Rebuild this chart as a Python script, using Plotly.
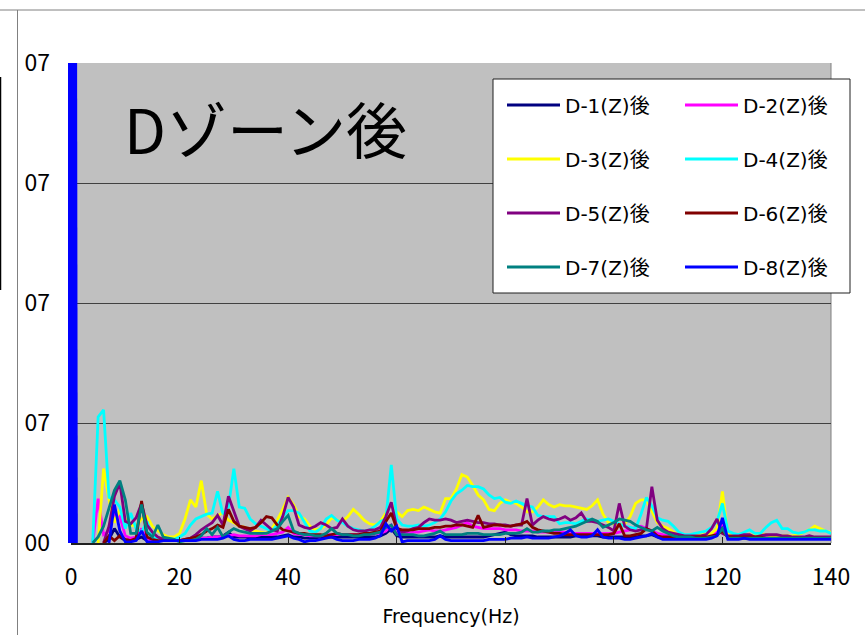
import plotly.graph_objects as go

# ---------------- data (amplitude in grid units) ----------------
FREQ_HZ = list(range(0, 141))
N = None

D1 = [N, N, N, N, N, N, 0.00, 0.03, 0.12, 0.05,
      0.02, 0.03, 0.03, 0.05, 0.02, 0.02, 0.02, 0.02, 0.02, 0.02,
      0.02, 0.02, 0.03, 0.03, 0.04, 0.04, 0.05, 0.05, 0.06, 0.09,
      0.05, 0.05, 0.05, 0.04, 0.04, 0.05, 0.05, 0.05, 0.05, 0.06,
      0.07, 0.05, 0.05, 0.04, 0.04, 0.04, 0.05, 0.05, 0.05, 0.05,
      0.05, 0.05, 0.05, 0.05, 0.05, 0.05, 0.05, 0.06, 0.08, 0.12,
      0.06, 0.05, 0.05, 0.05, 0.05, 0.05, 0.05, 0.05, 0.06, 0.05,
      0.05, 0.05, 0.05, 0.05, 0.05, 0.05, 0.05, 0.06, 0.07, 0.08,
      0.09, 0.07, 0.06, 0.06, 0.06, 0.06, 0.05, 0.05, 0.05, 0.05,
      0.05, 0.05, 0.05, 0.06, 0.06, 0.06, 0.06, 0.06, 0.05, 0.05,
      0.05, 0.05, 0.05, 0.05, 0.05, 0.06, 0.06, 0.07, 0.05, 0.04,
      0.04, 0.04, 0.04, 0.04, 0.04, 0.04, 0.04, 0.04, 0.05, 0.07,
      0.15, 0.04, 0.04, 0.04, 0.04, 0.04, 0.04, 0.04, 0.04, 0.04,
      0.04, 0.04, 0.04, 0.04, 0.04, 0.04, 0.04, 0.04, 0.04, 0.04,
      0.04]

D2 = [N, N, N, N, 0.00, 0.37, 0.07, 0.10, 0.25, 0.22,
      0.06, 0.04, 0.05, 0.12, 0.03, 0.02, 0.02, 0.02, 0.02, 0.02,
      0.02, 0.02, 0.03, 0.03, 0.04, 0.04, 0.05, 0.05, 0.06, 0.06,
      0.07, 0.06, 0.06, 0.06, 0.06, 0.07, 0.07, 0.07, 0.08, 0.09,
      0.13, 0.08, 0.07, 0.07, 0.06, 0.06, 0.06, 0.07, 0.07, 0.07,
      0.07, 0.07, 0.07, 0.07, 0.07, 0.07, 0.08, 0.08, 0.10, 0.15,
      0.08, 0.08, 0.08, 0.09, 0.09, 0.10, 0.11, 0.10, 0.10, 0.11,
      0.12, 0.13, 0.15, 0.17, 0.14, 0.13, 0.12, 0.12, 0.12, 0.12,
      0.11, 0.11, 0.11, 0.10, 0.10, 0.10, 0.09, 0.09, 0.09, 0.09,
      0.09, 0.09, 0.08, 0.08, 0.08, 0.08, 0.08, 0.08, 0.08, 0.08,
      0.08, 0.09, 0.10, 0.11, 0.13, 0.14, 0.12, 0.10, 0.08, 0.07,
      0.06, 0.06, 0.05, 0.05, 0.05, 0.05, 0.05, 0.05, 0.06, 0.09,
      0.17, 0.05, 0.05, 0.05, 0.05, 0.05, 0.05, 0.05, 0.05, 0.05,
      0.05, 0.05, 0.04, 0.04, 0.04, 0.04, 0.04, 0.04, 0.04, 0.04,
      0.04]

D3 = [N, N, N, N, N, 0.00, 0.62, 0.36, 0.17, 0.28,
      0.20, 0.15, 0.14, 0.20, 0.22, 0.14, 0.10, 0.07, 0.05, 0.05,
      0.08, 0.20, 0.36, 0.30, 0.52, 0.24, 0.20, 0.23, 0.25, 0.19,
      0.17, 0.14, 0.13, 0.11, 0.10, 0.09, 0.08, 0.12, 0.19, 0.28,
      0.38, 0.32, 0.22, 0.20, 0.14, 0.11, 0.12, 0.15, 0.21, 0.19,
      0.18, 0.22, 0.28, 0.24, 0.19, 0.16, 0.15, 0.18, 0.25, 0.32,
      0.26, 0.22, 0.27, 0.28, 0.27, 0.30, 0.28, 0.26, 0.25, 0.37,
      0.37, 0.45, 0.57, 0.55, 0.48, 0.40, 0.36, 0.28, 0.27, 0.33,
      0.36, 0.34, 0.33, 0.30, 0.26, 0.26, 0.30, 0.36, 0.32, 0.30,
      0.32, 0.31, 0.31, 0.30, 0.29, 0.28, 0.31, 0.36, 0.24, 0.17,
      0.16, 0.15, 0.16, 0.22, 0.33, 0.36, 0.36, 0.26, 0.17, 0.14,
      0.12, 0.09, 0.06, 0.06, 0.06, 0.07, 0.07, 0.07, 0.08, 0.12,
      0.43, 0.07, 0.06, 0.06, 0.06, 0.07, 0.06, 0.07, 0.07, 0.06,
      0.06, 0.06, 0.06, 0.06, 0.07, 0.09, 0.11, 0.14, 0.12, 0.10,
      0.09]

D4 = [N, N, N, N, 0.00, 1.05, 1.11, 0.38, 0.36, 0.30,
      0.12, 0.25, 0.12, 0.09, 0.18, 0.06, 0.02, 0.03, 0.04, 0.03,
      0.05, 0.08, 0.15, 0.20, 0.22, 0.24, 0.25, 0.43, 0.24, 0.30,
      0.62, 0.30, 0.29, 0.20, 0.16, 0.14, 0.12, 0.10, 0.15, 0.22,
      0.27, 0.27, 0.25, 0.17, 0.10, 0.09, 0.12, 0.20, 0.23, 0.19,
      0.17, 0.14, 0.12, 0.11, 0.10, 0.11, 0.14, 0.18, 0.20, 0.65,
      0.20, 0.15, 0.14, 0.14, 0.15, 0.14, 0.15, 0.17, 0.20, 0.26,
      0.35, 0.41, 0.44, 0.48, 0.47, 0.47, 0.45, 0.40, 0.37, 0.38,
      0.34, 0.33, 0.35, 0.33, 0.31, 0.30, 0.23, 0.22, 0.22, 0.22,
      0.16, 0.17, 0.17, 0.16, 0.18, 0.20, 0.19, 0.18, 0.19, 0.20,
      0.18, 0.16, 0.14, 0.13, 0.12, 0.24, 0.38, 0.31, 0.21, 0.19,
      0.18, 0.14, 0.09, 0.07, 0.07, 0.08, 0.09, 0.10, 0.13, 0.18,
      0.33, 0.10, 0.08, 0.07, 0.09, 0.11, 0.08, 0.08, 0.13, 0.17,
      0.19, 0.12, 0.12, 0.09, 0.08, 0.09, 0.11, 0.11, 0.10, 0.10,
      0.08]

D5 = [N, N, N, N, N, N, 0.00, 0.14, 0.39, 0.50,
      0.18, 0.16, 0.21, 0.33, 0.15, 0.09, 0.05, 0.03, 0.02, 0.02,
      0.02, 0.03, 0.04, 0.07, 0.11, 0.14, 0.17, 0.23, 0.15, 0.39,
      0.26, 0.14, 0.12, 0.10, 0.13, 0.19, 0.15, 0.11, 0.10, 0.22,
      0.38, 0.30, 0.15, 0.13, 0.12, 0.14, 0.17, 0.15, 0.12, 0.13,
      0.20, 0.14, 0.11, 0.10, 0.10, 0.11, 0.11, 0.13, 0.22, 0.34,
      0.13, 0.09, 0.10, 0.12, 0.13, 0.17, 0.20, 0.19, 0.19, 0.20,
      0.19, 0.17, 0.18, 0.19, 0.18, 0.17, 0.17, 0.16, 0.16, 0.15,
      0.15, 0.14, 0.15, 0.15, 0.37, 0.15, 0.19, 0.22, 0.20, 0.19,
      0.20, 0.22, 0.19, 0.21, 0.25, 0.18, 0.18, 0.17, 0.15, 0.13,
      0.10, 0.33, 0.14, 0.11, 0.10, 0.11, 0.12, 0.47, 0.19, 0.12,
      0.09, 0.08, 0.07, 0.06, 0.06, 0.06, 0.06, 0.07, 0.12, 0.20,
      0.08, 0.06, 0.06, 0.06, 0.07, 0.07, 0.05, 0.06, 0.07, 0.07,
      0.07, 0.06, 0.06, 0.05, 0.05, 0.05, 0.06, 0.05, 0.05, 0.05,
      0.05]

D6 = [N, N, N, N, N, N, 0.00, 0.06, 0.02, 0.06,
      0.03, 0.02, 0.04, 0.35, 0.05, 0.03, 0.02, 0.02, 0.02, 0.02,
      0.02, 0.03, 0.04, 0.05, 0.07, 0.10, 0.12, 0.15, 0.13, 0.28,
      0.18, 0.14, 0.13, 0.12, 0.13, 0.17, 0.22, 0.21, 0.15, 0.11,
      0.10, 0.09, 0.08, 0.08, 0.07, 0.07, 0.07, 0.06, 0.07, 0.08,
      0.07, 0.07, 0.07, 0.07, 0.08, 0.08, 0.09, 0.10, 0.18, 0.25,
      0.12, 0.11, 0.11, 0.11, 0.12, 0.12, 0.12, 0.13, 0.13, 0.14,
      0.14, 0.15, 0.15, 0.14, 0.13, 0.23, 0.13, 0.14, 0.15, 0.15,
      0.14, 0.14, 0.15, 0.16, 0.18, 0.13, 0.11, 0.10, 0.09, 0.08,
      0.08, 0.07, 0.07, 0.07, 0.07, 0.07, 0.07, 0.07, 0.07, 0.07,
      0.08, 0.16, 0.06, 0.06, 0.07, 0.08, 0.12, 0.10, 0.06, 0.05,
      0.05, 0.05, 0.05, 0.05, 0.05, 0.05, 0.05, 0.05, 0.06, 0.07,
      0.10, 0.05, 0.05, 0.05, 0.05, 0.05, 0.05, 0.05, 0.04, 0.04,
      0.04, 0.04, 0.04, 0.04, 0.04, 0.04, 0.04, 0.04, 0.04, 0.04,
      0.04]

D7 = [N, N, N, N, 0.00, 0.05, 0.14, 0.28, 0.44, 0.52,
      0.36, 0.08, 0.08, 0.32, 0.09, 0.05, 0.15, 0.05, 0.04, 0.03,
      0.01, 0.02, 0.02, 0.03, 0.06, 0.12, 0.07, 0.13, 0.05, 0.09,
      0.12, 0.10, 0.09, 0.08, 0.08, 0.08, 0.08, 0.10, 0.12, 0.18,
      0.23, 0.10, 0.08, 0.07, 0.07, 0.06, 0.06, 0.08, 0.12, 0.08,
      0.07, 0.07, 0.06, 0.06, 0.07, 0.07, 0.08, 0.09, 0.13, 0.15,
      0.07, 0.07, 0.07, 0.07, 0.06, 0.06, 0.07, 0.08, 0.10, 0.07,
      0.07, 0.07, 0.07, 0.08, 0.08, 0.08, 0.07, 0.07, 0.07, 0.07,
      0.08, 0.08, 0.08, 0.09, 0.12, 0.09, 0.09, 0.10, 0.10, 0.11,
      0.11, 0.12, 0.13, 0.14, 0.16, 0.18, 0.20, 0.18, 0.13, 0.15,
      0.17, 0.20, 0.19, 0.18, 0.15, 0.13, 0.11, 0.10, 0.13, 0.10,
      0.08, 0.06, 0.05, 0.05, 0.05, 0.04, 0.04, 0.04, 0.05, 0.06,
      0.12, 0.04, 0.04, 0.04, 0.04, 0.04, 0.04, 0.04, 0.04, 0.04,
      0.04, 0.04, 0.04, 0.04, 0.04, 0.04, 0.04, 0.04, 0.04, 0.04,
      0.04]

D8 = [30.0, 0.00, N, N, N, N, N, 0.00, 0.32, 0.10,
      0.01, 0.01, 0.02, 0.10, 0.01, 0.01, 0.01, 0.02, 0.02, 0.02,
      0.02, 0.02, 0.02, 0.02, 0.03, 0.03, 0.03, 0.03, 0.04, 0.06,
      0.03, 0.02, 0.02, 0.03, 0.03, 0.03, 0.03, 0.03, 0.04, 0.05,
      0.06, 0.04, 0.03, 0.01, 0.02, 0.02, 0.03, 0.04, 0.05, 0.03,
      0.02, 0.02, 0.02, 0.03, 0.03, 0.03, 0.04, 0.06, 0.16, 0.10,
      0.14, 0.01, 0.02, 0.02, 0.02, 0.02, 0.02, 0.03, 0.06, 0.03,
      0.02, 0.02, 0.02, 0.02, 0.02, 0.02, 0.02, 0.03, 0.03, 0.03,
      0.03, 0.04, 0.04, 0.04, 0.05, 0.04, 0.04, 0.04, 0.04, 0.05,
      0.06, 0.08, 0.11, 0.06, 0.05, 0.05, 0.06, 0.11, 0.05, 0.04,
      0.04, 0.04, 0.03, 0.03, 0.04, 0.05, 0.06, 0.08, 0.05, 0.03,
      0.03, 0.03, 0.03, 0.03, 0.03, 0.03, 0.03, 0.03, 0.04, 0.06,
      0.21, 0.03, 0.03, 0.03, 0.04, 0.03, 0.03, 0.03, 0.03, 0.03,
      0.03, 0.03, 0.03, 0.03, 0.03, 0.03, 0.03, 0.03, 0.03, 0.03,
      0.03]

SERIES_VALUES = [D1, D2, D3, D4, D5, D6, D7, D8]
SERIES_NAMES = ["D-1(Z)後", "D-2(Z)後", "D-3(Z)後", "D-4(Z)後",
                "D-5(Z)後", "D-6(Z)後", "D-7(Z)後", "D-8(Z)後"]
SERIES_COLORS = ["#000080", "#FF00FF", "#FFFF00", "#00FFFF",
                 "#800080", "#800000", "#008080", "#0000FF"]
SERIES_LEGEND = ["legend", "legend", "legend2", "legend2",
                 "legend3", "legend3", "legend4", "legend4"]

X_TICKS = [0, 20, 40, 60, 80, 100, 120, 140]
Y_TICK_VALS = [0, 1, 2, 3, 4]
Y_TICK_TEXT = ["00", "07", "07", "07", "07"]
TITLE_TEXT = "Dゾーン後"
X_TITLE = "Frequency(Hz)"

for s in SERIES_VALUES:
    if len(s) != len(FREQ_HZ):
        raise ValueError("length mismatch %d" % len(s))

# ---------------- figure ----------------
FONT = "Noto Sans CJK JP, Noto Sans, sans-serif"
FONT_WIDE = "DejaVu Sans, Noto Sans CJK JP, sans-serif"
W, H = 865, 635
ML, MR, MT, MB = 71, 34, 63, 92
PW, PH = W - ML - MR, H - MT - MB


def px_x(x):
    return (x - ML) / PW


def px_y(y):
    return (H - MB - y) / PH


fig = go.Figure()
for name, vals, col, lg in zip(SERIES_NAMES, SERIES_VALUES, SERIES_COLORS, SERIES_LEGEND):
    fig.add_trace(go.Scatter(
        x=FREQ_HZ, y=vals, name=name, mode="lines",
        line=dict(color=col, width=2.8), legend=lg, connectgaps=False,
    ))

legend_common = dict(
    orientation="h", xanchor="left", yanchor="middle",
    bgcolor="rgba(0,0,0,0)", borderwidth=0,
    font=dict(family=FONT_WIDE, size=20, color="black"),
    itemwidth=53, entrywidth=110, entrywidthmode="pixels",
    x=px_x(502),
)
row_centers = [105, 159, 213, 267]

fig.update_layout(
    width=W, height=H,
    margin=dict(l=ML, r=MR, t=MT, b=MB, autoexpand=False),
    paper_bgcolor="white", plot_bgcolor="#C0C0C0",
    font=dict(family=FONT, color="black"),
    showlegend=True,
    legend=dict(legend_common, y=px_y(row_centers[0])),
    legend2=dict(legend_common, y=px_y(row_centers[1])),
    legend3=dict(legend_common, y=px_y(row_centers[2])),
    legend4=dict(legend_common, y=px_y(row_centers[3])),
    xaxis=dict(
        range=[0, 140], tickvals=X_TICKS, ticks="inside", ticklen=6,
        tickcolor="#202020", tickwidth=1, showline=True, linecolor="#202020",
        linewidth=2, showgrid=False,
        zeroline=True, zerolinecolor="#0000FF", zerolinewidth=7,
        tickfont=dict(size=23, color="black"), ticklabelstandoff=12,
        title=dict(text=X_TITLE, font=dict(family=FONT_WIDE, size=19, color="black"),
                   standoff=19),
    ),
    yaxis=dict(
        range=[0, 4], tickvals=Y_TICK_VALS, ticktext=Y_TICK_TEXT,
        showgrid=True, gridcolor="#404040", gridwidth=1, zeroline=False,
        showline=False,
        ticks="", tickfont=dict(size=23, color="black"),
        ticklabelstandoff=20,
    ),
)

# legend frame
fig.add_shape(type="rect", xref="paper", yref="paper",
              x0=px_x(493), x1=px_x(850), y0=px_y(293), y1=px_y(79),
              fillcolor="white", line=dict(color="#202020", width=1), layer="above")
# right border of plot area
fig.add_shape(type="line", xref="paper", yref="paper", x0=1, x1=1, y0=0, y1=1,
              line=dict(color="#808080", width=1), layer="below")
# chart frame pieces visible in the crop
fig.add_shape(type="line", xref="paper", yref="paper",
              x0=px_x(0), x1=px_x(865), y0=px_y(10), y1=px_y(10),
              line=dict(color="#808080", width=1))
fig.add_shape(type="line", xref="paper", yref="paper",
              x0=px_x(17.5), x1=px_x(17.5), y0=px_y(10), y1=px_y(635),
              line=dict(color="#808080", width=1))
fig.add_shape(type="line", xref="paper", yref="paper",
              x0=px_x(0.5), x1=px_x(0.5), y0=px_y(77), y1=px_y(290),
              line=dict(color="#000000", width=1.5))

fig.add_annotation(text=TITLE_TEXT, xref="paper", yref="paper",
                   x=px_x(265), y=px_y(128), xanchor="center", yanchor="middle",
                   showarrow=False, font=dict(family=FONT, size=61, color="black"))

fig.write_html("out.html")
